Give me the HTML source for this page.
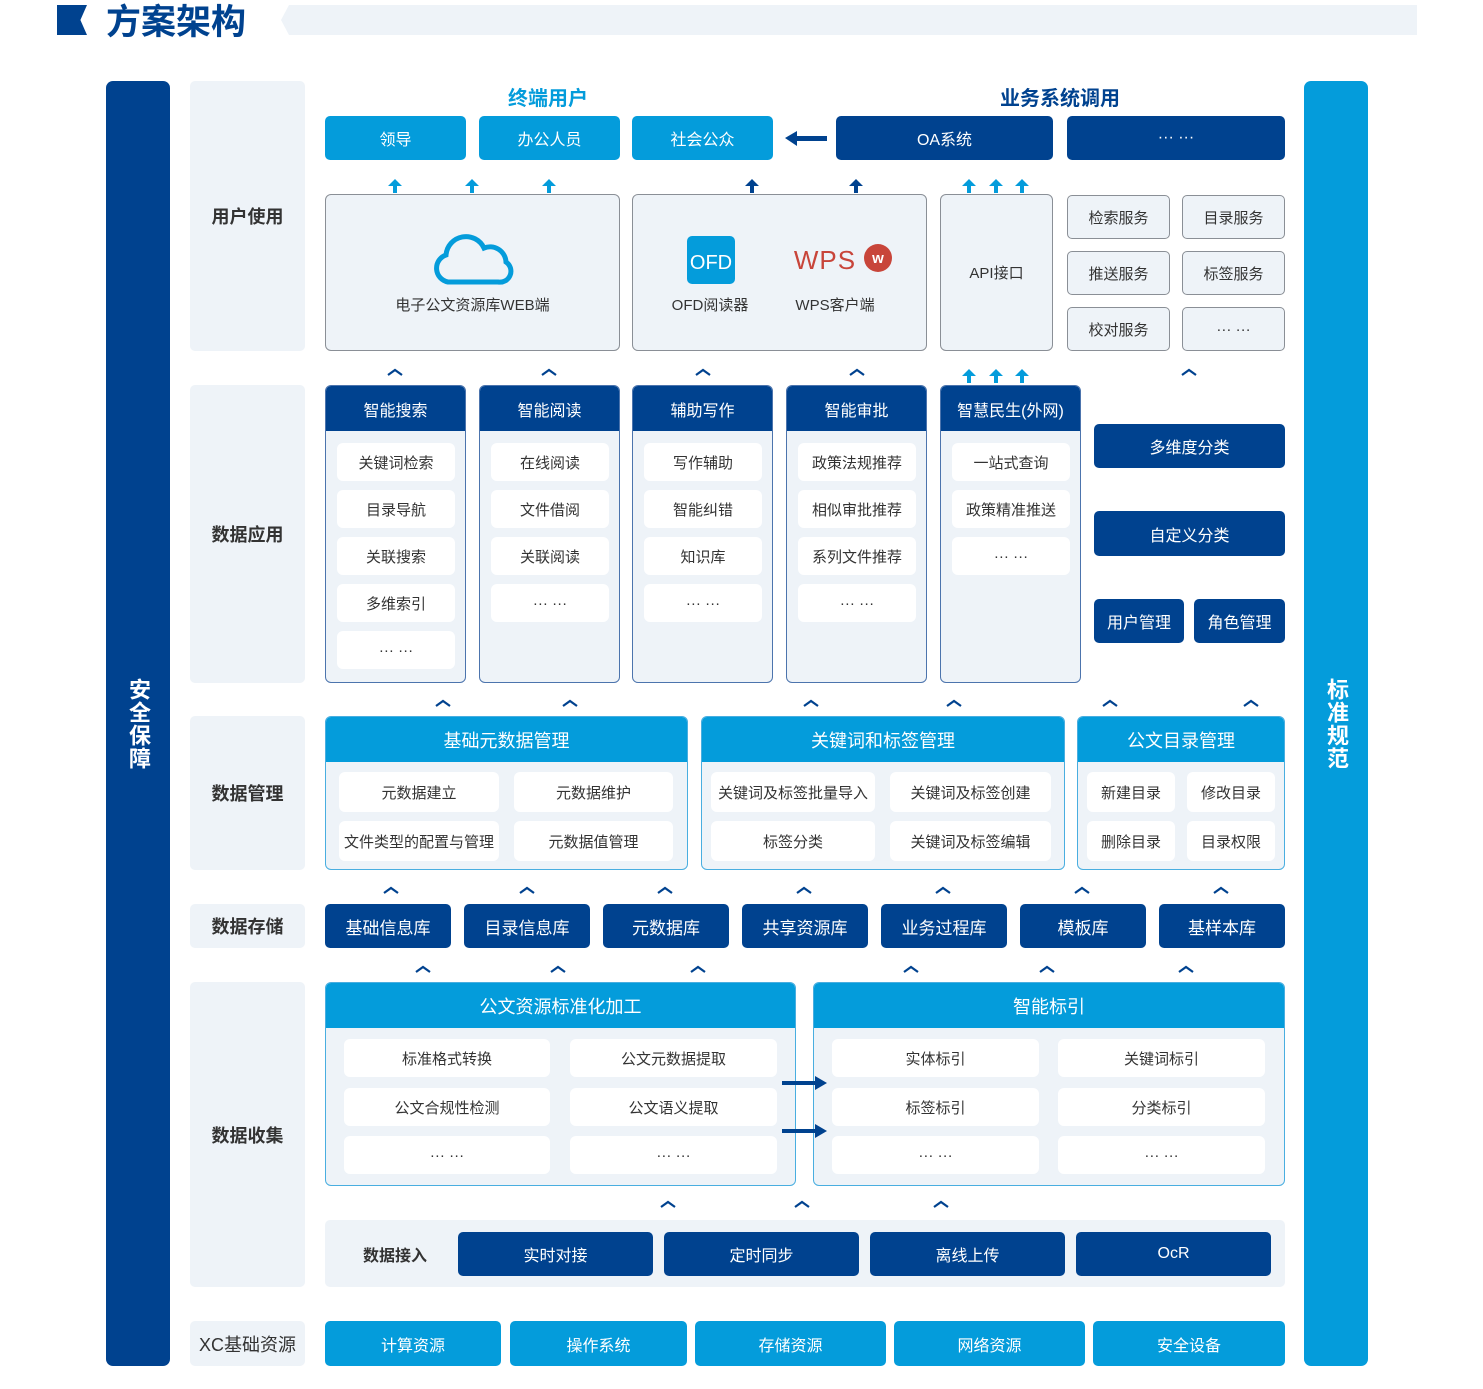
<!DOCTYPE html>
<html><head><meta charset="utf-8"><style>
*{margin:0;padding:0;box-sizing:border-box}
body{width:1483px;height:1389px;background:#fff;position:relative;overflow:hidden;font-family:"Liberation Sans","Noto Sans CJK SC",sans-serif;color:#333}
.b{position:absolute;display:flex;align-items:center;justify-content:center;text-align:center;font-size:16px;border-radius:5px;white-space:nowrap}
.d{background:#00428f;color:#fff}
.l{background:#049cdb;color:#fff}
.g{background:#eef3f8}
.lab{font-size:18px;font-weight:bold;color:#333}
.w{background:#fff;color:#333;font-size:15px;border-radius:6px}
.col{position:absolute;background:#eef3f8;border:1.5px solid #4c74ad;border-radius:6px;overflow:hidden}
.col .h{position:absolute;left:0;right:0;top:0;height:45px;background:#00428f;color:#fff;display:flex;align-items:center;justify-content:center;font-size:16px}
.grp{position:absolute;background:#eef3f8;border:1.5px solid #49aee0;border-radius:6px;overflow:hidden}
.grp .h{position:absolute;left:0;right:0;top:0;height:45px;background:#049cdb;color:#fff;display:flex;align-items:center;justify-content:center;font-size:18px}
.ob{position:absolute;background:#eef3f8;border:1.5px solid #8a8f96;border-radius:6px}
.sv{background:#eef3f8;border:1.5px solid #8a8f96;color:#333;font-size:15px}
.vt{writing-mode:vertical-rl;text-orientation:upright;font-size:22px;font-weight:bold;color:#fff;letter-spacing:1px}
</style></head><body>
<!-- title -->
<div style="position:absolute;left:57px;top:5px;width:30px;height:30px;background:#00428f;clip-path:polygon(0 0,100% 0,78% 50%,100% 100%,0 100%)"></div>
<div style="position:absolute;left:106px;top:3px;font-size:35px;font-weight:bold;color:#00428f;line-height:40px">方案架构</div>
<div style="position:absolute;left:281px;top:5px;width:1136px;height:30px;background:#eef3f8;clip-path:polygon(8px 0,100% 0,100% 100%,8px 100%,0 50%)"></div>

<!-- side bars -->
<div class="b d" style="left:106px;top:81px;width:64px;height:1285px;border-radius:7px"><span class="vt">安全保障</span></div>
<div class="b l" style="left:1304px;top:81px;width:64px;height:1285px;border-radius:7px"><span class="vt">标准规范</span></div>

<!-- labels -->
<div class="b g lab" style="left:190px;top:81px;width:115px;height:270px">用户使用</div>
<div class="b g lab" style="left:190px;top:385px;width:115px;height:298px">数据应用</div>
<div class="b g lab" style="left:190px;top:716px;width:115px;height:154px">数据管理</div>
<div class="b g lab" style="left:190px;top:904px;width:115px;height:44px">数据存储</div>
<div class="b g lab" style="left:190px;top:982px;width:115px;height:305px">数据收集</div>
<div class="b g lab" style="left:190px;top:1321px;width:115px;height:45px;font-weight:normal">XC基础资源</div>

<!-- top -->
<div style="position:absolute;left:478px;top:82px;width:140px;text-align:center;font-size:20px;font-weight:bold;color:#049cdb">终端用户</div>
<div style="position:absolute;left:980px;top:82px;width:160px;text-align:center;font-size:20px;font-weight:bold;color:#00428f">业务系统调用</div>
<div class="b l" style="left:325px;top:116px;width:141px;height:44px">领导</div>
<div class="b l" style="left:479px;top:116px;width:141px;height:44px">办公人员</div>
<div class="b l" style="left:632px;top:116px;width:141px;height:44px">社会公众</div>
<div class="b d" style="left:836px;top:116px;width:217px;height:44px">OA系统</div>
<div class="b d" style="left:1067px;top:116px;width:218px;height:44px">··· ···</div>

<div class="ob" style="left:325px;top:194px;width:295px;height:157px"></div>
<svg style="position:absolute;left:432px;top:234px" width="82" height="52" viewBox="0 0 82 52"><path d="M16 48 A14 14 0 0 1 14 21 A20 20 0 0 1 52 14 A16 16 0 0 1 74 28 A11 11 0 0 1 66 48 Z" fill="none" stroke="#049cdb" stroke-width="5"/></svg>
<div class="b" style="left:325px;top:292px;width:295px;height:24px;font-size:15px">电子公文资源库WEB端</div>

<div class="ob" style="left:632px;top:194px;width:295px;height:157px"></div>
<div class="b l" style="left:687px;top:236px;width:48px;height:48px;border-radius:5px;font-size:20px;padding-top:6px">OFD</div>
<div class="b" style="left:660px;top:292px;width:100px;height:24px;font-size:15px">OFD阅读器</div>
<div class="b" style="left:780px;top:245px;width:90px;height:30px;color:#c8453a;font-size:26px;letter-spacing:1px;font-weight:normal">WPS</div>
<div class="b" style="left:864px;top:244px;width:28px;height:28px;border-radius:50%;background:#c8453a;color:#fff;font-size:15px;font-weight:bold">w</div>
<div class="b" style="left:785px;top:292px;width:100px;height:24px;font-size:15px">WPS客户端</div>

<div class="ob" style="left:940px;top:194px;width:113px;height:157px"></div>
<div class="b" style="left:940px;top:260px;width:113px;height:24px;font-size:15px">API接口</div>

<div class="b sv" style="left:1067px;top:195px;width:103px;height:44px">检索服务</div>
<div class="b sv" style="left:1182px;top:195px;width:103px;height:44px">目录服务</div>
<div class="b sv" style="left:1067px;top:251px;width:103px;height:44px">推送服务</div>
<div class="b sv" style="left:1182px;top:251px;width:103px;height:44px">标签服务</div>
<div class="b sv" style="left:1067px;top:307px;width:103px;height:44px">校对服务</div>
<div class="b sv" style="left:1182px;top:307px;width:103px;height:44px">··· ···</div>

<!-- app columns -->
<div class="col" style="left:325px;top:385px;width:141px;height:298px"><div class="h">智能搜索</div></div>
<div class="col" style="left:479px;top:385px;width:141px;height:298px"><div class="h">智能阅读</div></div>
<div class="col" style="left:632px;top:385px;width:141px;height:298px"><div class="h">辅助写作</div></div>
<div class="col" style="left:786px;top:385px;width:141px;height:298px"><div class="h">智能审批</div></div>
<div class="col" style="left:940px;top:385px;width:141px;height:298px"><div class="h">智慧民生(外网)</div></div>

<div class="b w" style="left:337px;top:443px;width:118px;height:38px">关键词检索</div>
<div class="b w" style="left:337px;top:490px;width:118px;height:38px">目录导航</div>
<div class="b w" style="left:337px;top:537px;width:118px;height:38px">关联搜索</div>
<div class="b w" style="left:337px;top:584px;width:118px;height:38px">多维索引</div>
<div class="b w" style="left:337px;top:631px;width:118px;height:38px">··· ···</div>

<div class="b w" style="left:491px;top:443px;width:118px;height:38px">在线阅读</div>
<div class="b w" style="left:491px;top:490px;width:118px;height:38px">文件借阅</div>
<div class="b w" style="left:491px;top:537px;width:118px;height:38px">关联阅读</div>
<div class="b w" style="left:491px;top:584px;width:118px;height:38px">··· ···</div>

<div class="b w" style="left:644px;top:443px;width:118px;height:38px">写作辅助</div>
<div class="b w" style="left:644px;top:490px;width:118px;height:38px">智能纠错</div>
<div class="b w" style="left:644px;top:537px;width:118px;height:38px">知识库</div>
<div class="b w" style="left:644px;top:584px;width:118px;height:38px">··· ···</div>

<div class="b w" style="left:798px;top:443px;width:118px;height:38px">政策法规推荐</div>
<div class="b w" style="left:798px;top:490px;width:118px;height:38px">相似审批推荐</div>
<div class="b w" style="left:798px;top:537px;width:118px;height:38px">系列文件推荐</div>
<div class="b w" style="left:798px;top:584px;width:118px;height:38px">··· ···</div>

<div class="b w" style="left:952px;top:443px;width:118px;height:38px">一站式查询</div>
<div class="b w" style="left:952px;top:490px;width:118px;height:38px">政策精准推送</div>
<div class="b w" style="left:952px;top:537px;width:118px;height:38px">··· ···</div>

<div class="b d" style="left:1094px;top:424px;width:191px;height:44px">多维度分类</div>
<div class="b d" style="left:1094px;top:511px;width:191px;height:45px">自定义分类</div>
<div class="b d" style="left:1094px;top:599px;width:90px;height:44px">用户管理</div>
<div class="b d" style="left:1194px;top:599px;width:91px;height:44px">角色管理</div>

<!-- data mgmt -->
<div class="grp" style="left:325px;top:716px;width:363px;height:154px"><div class="h">基础元数据管理</div></div>
<div class="grp" style="left:701px;top:716px;width:364px;height:154px"><div class="h">关键词和标签管理</div></div>
<div class="grp" style="left:1077px;top:716px;width:208px;height:154px"><div class="h">公文目录管理</div></div>
<div class="b w" style="left:339px;top:772px;width:160px;height:40px">元数据建立</div>
<div class="b w" style="left:514px;top:772px;width:159px;height:40px">元数据维护</div>
<div class="b w" style="left:339px;top:821px;width:160px;height:40px">文件类型的配置与管理</div>
<div class="b w" style="left:514px;top:821px;width:159px;height:40px">元数据值管理</div>
<div class="b w" style="left:711px;top:772px;width:164px;height:40px">关键词及标签批量导入</div>
<div class="b w" style="left:890px;top:772px;width:161px;height:40px">关键词及标签创建</div>
<div class="b w" style="left:711px;top:821px;width:164px;height:40px">标签分类</div>
<div class="b w" style="left:890px;top:821px;width:161px;height:40px">关键词及标签编辑</div>
<div class="b w" style="left:1087px;top:772px;width:88px;height:40px">新建目录</div>
<div class="b w" style="left:1187px;top:772px;width:88px;height:40px">修改目录</div>
<div class="b w" style="left:1087px;top:821px;width:88px;height:40px">删除目录</div>
<div class="b w" style="left:1187px;top:821px;width:88px;height:40px">目录权限</div>

<!-- storage -->
<div class="b d" style="left:325px;top:904px;width:126px;height:44px;font-size:17px">基础信息库</div>
<div class="b d" style="left:464px;top:904px;width:126px;height:44px;font-size:17px">目录信息库</div>
<div class="b d" style="left:603px;top:904px;width:126px;height:44px;font-size:17px">元数据库</div>
<div class="b d" style="left:742px;top:904px;width:126px;height:44px;font-size:17px">共享资源库</div>
<div class="b d" style="left:881px;top:904px;width:126px;height:44px;font-size:17px">业务过程库</div>
<div class="b d" style="left:1020px;top:904px;width:126px;height:44px;font-size:17px">模板库</div>
<div class="b d" style="left:1159px;top:904px;width:126px;height:44px;font-size:17px">基样本库</div>

<!-- collection -->
<div class="grp" style="left:325px;top:982px;width:471px;height:204px"><div class="h">公文资源标准化加工</div></div>
<div class="grp" style="left:813px;top:982px;width:472px;height:204px"><div class="h">智能标引</div></div>
<div class="b w" style="left:344px;top:1039px;width:206px;height:38px">标准格式转换</div>
<div class="b w" style="left:570px;top:1039px;width:207px;height:38px">公文元数据提取</div>
<div class="b w" style="left:344px;top:1088px;width:206px;height:38px">公文合规性检测</div>
<div class="b w" style="left:570px;top:1088px;width:207px;height:38px">公文语义提取</div>
<div class="b w" style="left:344px;top:1136px;width:206px;height:38px">··· ···</div>
<div class="b w" style="left:570px;top:1136px;width:207px;height:38px">··· ···</div>
<div class="b w" style="left:832px;top:1039px;width:207px;height:38px">实体标引</div>
<div class="b w" style="left:1058px;top:1039px;width:207px;height:38px">关键词标引</div>
<div class="b w" style="left:832px;top:1088px;width:207px;height:38px">标签标引</div>
<div class="b w" style="left:1058px;top:1088px;width:207px;height:38px">分类标引</div>
<div class="b w" style="left:832px;top:1136px;width:207px;height:38px">··· ···</div>
<div class="b w" style="left:1058px;top:1136px;width:207px;height:38px">··· ···</div>

<div class="b g" style="left:325px;top:1220px;width:960px;height:67px"></div>
<div class="b" style="left:345px;top:1242px;width:100px;height:24px;font-size:16px;font-weight:bold">数据接入</div>
<div class="b d" style="left:458px;top:1232px;width:195px;height:44px">实时对接</div>
<div class="b d" style="left:664px;top:1232px;width:195px;height:44px">定时同步</div>
<div class="b d" style="left:870px;top:1232px;width:195px;height:44px">离线上传</div>
<div class="b d" style="left:1076px;top:1232px;width:195px;height:44px">OcR</div>

<div class="b l" style="left:325px;top:1321px;width:176px;height:45px">计算资源</div>
<div class="b l" style="left:510px;top:1321px;width:177px;height:45px">操作系统</div>
<div class="b l" style="left:695px;top:1321px;width:191px;height:45px">存储资源</div>
<div class="b l" style="left:894px;top:1321px;width:191px;height:45px">网络资源</div>
<div class="b l" style="left:1093px;top:1321px;width:192px;height:45px">安全设备</div>

<!-- arrows & chevrons -->
<svg style="position:absolute;left:0;top:0" width="1483" height="1389">
<defs>
<g id="up"><path d="M-7 7 L0 0 L7 7 L2 7 L2 14 L-2 14 L-2 7 Z" fill="#049cdb"/></g>
<g id="upd"><path d="M-7 7 L0 0 L7 7 L2 7 L2 14 L-2 14 L-2 7 Z" fill="#00428f"/></g>
<g id="ch"><polyline points="-7,4 0,-1 7,4" fill="none" stroke="#00428f" stroke-width="2.2"/></g>
</defs>
<use href="#up" x="395" y="179"/><use href="#up" x="472" y="179"/><use href="#up" x="549" y="179"/>
<use href="#upd" x="752" y="179"/><use href="#upd" x="856" y="179"/>
<use href="#up" x="969" y="179"/><use href="#up" x="996" y="179"/><use href="#up" x="1022" y="179"/>
<use href="#up" x="969" y="369"/><use href="#up" x="996" y="369"/><use href="#up" x="1022" y="369"/>
<path d="M785 138 L797 131 L797 136 L827 136 L827 141 L797 141 L797 146 Z" fill="#00428f"/>
<path d="M827 1083 L815 1076 L815 1081 L782 1081 L782 1085 L815 1085 L815 1090 Z" fill="#00428f"/>
<path d="M827 1131 L815 1124 L815 1129 L782 1129 L782 1133 L815 1133 L815 1138 Z" fill="#00428f"/>
<use href="#ch" x="395" y="371"/><use href="#ch" x="549" y="371"/><use href="#ch" x="703" y="371"/><use href="#ch" x="857" y="371"/><use href="#ch" x="1189" y="371"/>
<use href="#ch" x="443" y="702"/><use href="#ch" x="570" y="702"/><use href="#ch" x="811" y="702"/><use href="#ch" x="954" y="702"/><use href="#ch" x="1110" y="702"/><use href="#ch" x="1251" y="702"/>
<use href="#ch" x="391" y="889"/><use href="#ch" x="527" y="889"/><use href="#ch" x="665" y="889"/><use href="#ch" x="804" y="889"/><use href="#ch" x="943" y="889"/><use href="#ch" x="1082" y="889"/><use href="#ch" x="1221" y="889"/>
<use href="#ch" x="423" y="968"/><use href="#ch" x="558" y="968"/><use href="#ch" x="698" y="968"/><use href="#ch" x="911" y="968"/><use href="#ch" x="1047" y="968"/><use href="#ch" x="1186" y="968"/>
<use href="#ch" x="668" y="1203"/><use href="#ch" x="802" y="1203"/><use href="#ch" x="941" y="1203"/>
</svg>
</body></html>
